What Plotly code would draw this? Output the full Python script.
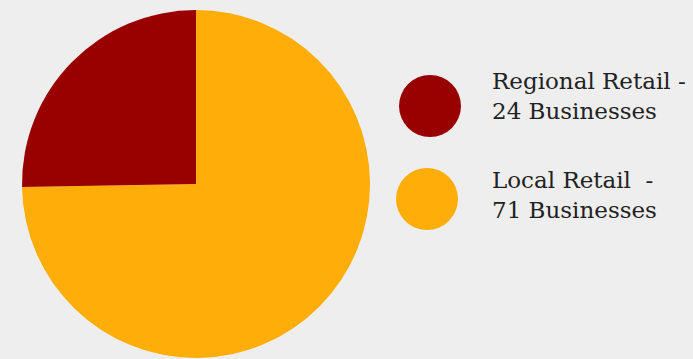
import plotly.graph_objects as go

labels = ["Regional Retail", "Local Retail"]
values = [24, 71]
colors = ["#990000", "#FFAD08"]
legend_text = ["Regional Retail -<br>24 Businesses", "Local Retail  -<br>71 Businesses"]

W, H = 693, 359
fig = go.Figure()
# Local Retail drawn first clockwise from 12 o'clock, so Regional fills the top-left quarter
fig.add_trace(go.Pie(
    labels=labels[::-1], values=values[::-1], sort=False, direction="clockwise",
    rotation=0, textinfo="none", hoverinfo="label+value",
    marker=dict(colors=colors[::-1], line=dict(width=0)),
    domain=dict(x=[22 / W, 370 / W], y=[1 / H, 349 / H]),
    showlegend=False,
))

# legend: circles + text
circ = [(430, 106), (427, 199)]
txt_y = [96, 195]
r = 31
for (cx, cy), ty, col, t in zip(circ, txt_y, colors, legend_text):
    fig.add_shape(type="circle", xref="paper", yref="paper",
                  x0=(cx - r) / W, x1=(cx + r) / W,
                  y0=1 - (cy + r) / H, y1=1 - (cy - r) / H,
                  fillcolor=col, line=dict(width=0))
    fig.add_annotation(x=490 / W, y=1 - ty / H, xref="paper", yref="paper",
                       text=t, showarrow=False, xanchor="left", yanchor="middle",
                       align="left",
                       font=dict(family="DejaVu Serif, serif", size=23, color="#222222"))

fig.update_layout(
    width=W, height=H, margin=dict(l=0, r=0, t=0, b=0),
    paper_bgcolor="#EEEEEE", plot_bgcolor="#EEEEEE",
)
fig.write_html("out.html")
